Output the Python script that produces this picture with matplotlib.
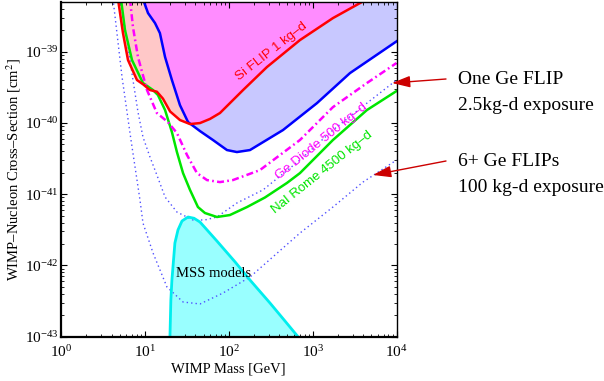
import numpy as np
import matplotlib
matplotlib.use("Agg")
import matplotlib.pyplot as plt

plt.rcParams['font.family'] = ['Liberation Serif', 'DejaVu Serif']
plt.rcParams['mathtext.fontset'] = 'stix'

# curves: WIMP mass [GeV], cross-section [cm^2]
si_flip_m = [4.78, 5.48, 6.29, 8.05, 9.49, 11.5, 13.9, 16.4, 20.0, 26.2, 34.5, 45.4,
             59.7, 78.5, 148, 285, 706, 1745, 3873, 5000]
si_flip_s = [5.5e-39, 1.83e-39, 7.65e-40, 4.01e-40, 3.5e-40, 2.9e-40, 2.75e-40, 2.2e-40,
             1.45e-40, 1.1e-40, 9.66e-41, 9.98e-41, 1.14e-40, 1.38e-40, 2.9e-40, 6.1e-40,
             1.46e-39, 2.97e-39, 5.0e-39, 6.5e-39]

cdms_m = [9.49, 10.9, 13.2, 15.1, 17.4, 21.0, 26.2, 32.7, 45.4, 64.8, 95.2, 125, 179,
          443, 1125, 2786, 10000]
cdms_s = [5.5e-39, 3.49e-39, 2.53e-39, 1.83e-39, 8.43e-40, 4.01e-40, 1.78e-40, 1.03e-40,
          7.7e-41, 5.77e-41, 4.17e-41, 3.91e-41, 4.17e-41, 7.96e-41, 1.9e-40, 5.02e-40, 1.4e-39]

nai_m = [5.19, 5.79, 7.02, 9.49, 12.5, 14.3, 17.4, 21.0, 24.1, 28.5, 34.5, 42.9, 52.0,
         72.3, 103, 165, 270, 494, 706, 1745, 4436, 10000]
nai_s = [5.5e-39, 2.02e-39, 7.65e-40, 3.64e-40, 2.9e-40, 2.47e-40, 1.52e-40, 7.46e-41,
         3.91e-41, 1.98e-41, 1.15e-41, 6.61e-42, 5.45e-42, 4.79e-42, 5.1e-42, 6.61e-42,
         9.0e-42, 1.44e-41, 1.98e-41, 5.77e-41, 1.52e-40, 2.81e-40]

ge_m = [6.64, 7.21, 8.27, 10.6, 13.9, 18.8, 24.1, 31.8, 41.8, 55.0, 78.5, 112, 235,
        706, 1745, 4436, 10000]
ge_s = [5.5e-39, 2.22e-39, 8.43e-40, 2.9e-40, 1.38e-40, 1.03e-40, 7.23e-41, 3.55e-41,
        1.98e-41, 1.58e-41, 1.48e-41, 1.58e-41, 2.18e-41, 5.77e-41, 1.67e-40, 3.64e-40, 6.95e-40]

flip1_m = [5.05, 6.13, 7.21, 8.27, 9.49, 11.5, 13.9, 17.4, 24.1, 37.4, 52.0, 72.3, 125,
           256, 706, 1745, 4436, 10000]
flip1_s = [5.5e-39, 1.46e-39, 4.01e-40, 1.43e-40, 6.35e-41, 3.33e-41, 1.86e-41, 9.14e-42,
           5.62e-42, 4.35e-42, 4.35e-42, 4.79e-42, 7.53e-42, 1.15e-41, 3.02e-41, 7.96e-41,
           1.9e-40, 4.01e-40]

flip6_m = [4.17, 5.33, 6.83, 8.74, 9.49, 12.5, 18.3, 28.5, 45.4, 85.3, 179, 706, 1745,
           3981, 10000]
flip6_s = [5.5e-39, 4.5e-40, 5.77e-41, 8.3e-42, 3.94e-42, 1.5e-42, 5.0e-43, 3.07e-43,
           2.88e-43, 4.1e-43, 6.88e-43, 2.85e-42, 6.61e-42, 1.48e-41, 3.02e-41]

mss_m = [19.9, 20.4, 21.0, 22.8, 24.8, 27.7, 32.7, 38.5, 45.4, 72.3, 119, 179, 310, 468, 668]
mss_s = [1e-43, 3.27e-43, 6.25e-43, 2.07e-42, 3.15e-42, 4.21e-42, 4.79e-42, 4.6e-42,
         4.07e-42, 2.2e-42, 1.12e-42, 6.25e-43, 2.97e-43, 1.66e-43, 1e-43]

fig = plt.figure(figsize=(6.04, 3.81), dpi=100)
ax = fig.add_axes([0.101, 0.1163, 0.5555, 0.8785])
ax.set_xscale('log')
ax.set_yscale('log')
ax.set_xlim(1, 1e4)
ax.set_ylim(1e-43, 5e-39)

# shaded excluded regions above the Si FLIP and CDMS-like curves
top = 1e-37
grid = np.logspace(np.log10(4.7), 4, 1200)
def on_grid(m, s):
    v = np.interp(np.log10(grid), np.log10(m), np.log10(s),
                  left=np.log10(top), right=np.log10(top))
    return 10 ** v
red = on_grid(si_flip_m, si_flip_s)
blue = on_grid(cdms_m, cdms_s)
upper = np.maximum(red, blue)
ax.fill_between(grid, upper, top, color='#ff8cff', lw=0)
ax.fill_between(grid, red, blue, where=red < blue, interpolate=True, color='#ffc8c8', lw=0)
ax.fill_between(grid, blue, red, where=blue < red, interpolate=True, color='#c8c8ff', lw=0)

# projected FLIP sensitivities
ax.plot(flip1_m, flip1_s, color='#5050ff', lw=1, ls=(0, (1, 2.2)))
ax.plot(flip6_m, flip6_s, color='#5050ff', lw=1, ls=(0, (1, 2.2)))

# MSSM region
ax.fill(mss_m, mss_s, color='#99ffff', lw=0)
ax.plot(mss_m, mss_s, color='#00eeee', lw=2)

ax.plot(nai_m, nai_s, color='#00e600', lw=1.8)
ax.plot(ge_m, ge_s, color='#ff00ff', lw=1.8, ls=(0, (2.8, 1.3, 0.7, 1.3)))
ax.plot(cdms_m, cdms_s, color='#0000ff', lw=1.8)
ax.plot(si_flip_m, si_flip_s, color='#ff0000', lw=1.8)

def pix(x, y):
    # image pixel -> data coordinates
    lx = (x - 61) / 83.9
    ly = -43 + (336.7 - y) / 71.25
    return 10 ** lx, 10 ** ly

ax.text(*pix(272, 51), 'Si FLIP 1 kg–d', color='#ff0000', rotation=38,
        ha='center', va='center', fontsize=9.5, family='Liberation Sans')
ax.text(*pix(322, 141), 'Ge Diode 500 kg–d', color='#ff00ff', rotation=39,
        ha='center', va='center', fontsize=9.5, family='Liberation Sans')
ax.text(*pix(322, 172), 'NaI Rome 4500 kg–d', color='#00e600', rotation=38.5,
        ha='center', va='center', fontsize=9.5, family='Liberation Sans')
ax.text(*pix(214, 273), 'MSS models', color='black', ha='center', va='center', fontsize=10.5)

ax.set_xlabel('WIMP Mass [GeV]', fontsize=10.5, labelpad=2)
ax.set_ylabel('WIMP–Nucleon Cross–Section [cm$^2$]', fontsize=10.5, labelpad=1)
ax.tick_params(which='both', direction='in', top=True, right=True, labelsize=11)
ax.tick_params(axis='y', pad=2)
ax.tick_params(axis='x', pad=5)
ax.tick_params(which='major', length=4)
ax.tick_params(which='minor', length=2)
ax.set_yticks([1e-43, 1e-42, 1e-41, 1e-40, 1e-39])
for side in ['left', 'bottom']:
    ax.spines[side].set_linewidth(1.6)
for side in ['top', 'right']:
    ax.spines[side].set_linewidth(1.0)

# arrows and notes on the right
arrow = dict(arrowstyle='-|>,head_length=1.1,head_width=0.35', color='#cc0000', lw=1,
             shrinkA=0, shrinkB=0)
ax.annotate('', xy=(392, 381 - 83), xycoords='figure pixels',
            xytext=(446, 381 - 79), textcoords='figure pixels', arrowprops=arrow)
ax.annotate('', xy=(373, 381 - 175), xycoords='figure pixels',
            xytext=(446, 381 - 161), textcoords='figure pixels', arrowprops=arrow)
fig.text(458 / 604, 1 - 79 / 381, 'One Ge FLIP', fontsize=14, va='center')
fig.text(458 / 604, 1 - 106 / 381, '2.5kg-d exposure', fontsize=14, va='center')
fig.text(458 / 604, 1 - 162 / 381, '6+ Ge FLIPs', fontsize=14, va='center')
fig.text(458 / 604, 1 - 188 / 381, '100 kg-d exposure', fontsize=14, va='center')

fig.savefig('out.png', dpi=100)
